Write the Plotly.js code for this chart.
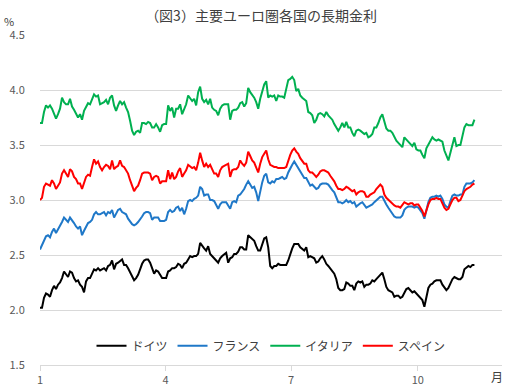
<!DOCTYPE html>
<html>
<head>
<meta charset="utf-8">
<script src="https://cdn.plot.ly/plotly-3.0.1.min.js"></script>
<style>html,body{margin:0;padding:0;background:#fff;}#chart{width:530px;height:390px;}</style>
</head>
<body>
<div id="chart"></div>
<script>
// Series names (legend order)
const seriesNames = ['ドイツ', 'フランス', 'イタリア', 'スペイン'];
const seriesColors = ['#000000', '#1f78c8', '#00b050', '#ff0000'];

// Readings are evenly spaced in time between these two dates
const startDate = '2024-01-01';
const endDate = '2024-11-11';

// Month tick labels
const tickMonths = ['2024-01-01', '2024-04-01', '2024-07-01', '2024-10-01'];
const tickLabels = ['1', '4', '7', '10'];

// Germany 10y (%)
const germany = [
2.02,2.02,2.11,2.15,2.14,2.12,2.18,2.22,2.19,2.23,
2.25,2.29,2.35,2.32,2.30,2.35,2.34,2.29,2.26,2.27,
2.23,2.21,2.16,2.26,2.29,2.29,2.33,2.37,2.36,2.38,
2.36,2.37,2.38,2.36,2.40,2.41,2.45,2.37,2.42,2.43,
2.45,2.46,2.41,2.41,2.38,2.34,2.30,2.27,2.29,2.32,
2.37,2.42,2.45,2.46,2.46,2.43,2.38,2.33,2.36,2.35,
2.32,2.29,2.29,2.29,2.35,2.36,2.38,2.38,2.39,2.42,
2.41,2.38,2.42,2.43,2.46,2.49,2.48,2.49,2.49,2.51,
2.61,2.59,2.56,2.54,2.58,2.51,2.49,2.48,2.45,2.43,
2.47,2.49,2.51,2.52,2.43,2.47,2.48,2.51,2.51,2.53,
2.57,2.57,2.55,2.55,2.68,2.66,2.64,
2.63,2.58,2.54,2.54,2.60,2.65,2.66,2.57,2.40,2.38,
2.40,2.40,2.42,2.41,2.41,2.41,2.41,2.45,2.51,2.56,
2.60,2.60,2.60,2.57,2.55,2.54,2.57,2.48,2.49,2.48,
2.47,2.43,2.44,2.47,2.49,2.46,2.42,2.40,2.38,2.36,
2.33,2.28,2.20,2.18,2.18,2.19,2.25,2.24,2.22,2.22,
2.18,2.24,2.26,2.25,2.26,2.21,2.23,2.23,2.24,2.27,
2.26,2.28,2.30,2.32,2.34,2.28,2.21,2.18,2.17,2.16,
2.12,2.13,2.13,2.11,2.12,2.15,2.19,2.20,2.18,2.16,
2.17,2.15,2.13,2.12,2.09,2.03,2.13,2.20,2.23,2.24,
2.26,2.27,2.27,2.27,2.23,2.20,2.18,2.20,2.24,2.28,
2.30,2.29,2.28,2.28,2.30,2.37,2.39,2.40,2.39,2.41,
2.41
];

// France 10y (%)
const france = [
2.55,2.59,2.62,2.67,2.68,2.66,2.71,2.74,2.70,2.73,
2.76,2.80,2.84,2.82,2.80,2.84,2.82,2.79,2.76,2.74,
2.76,2.68,2.72,2.76,2.79,2.80,2.82,2.87,2.89,2.87,
2.87,2.88,2.89,2.86,2.89,2.88,2.91,2.84,2.87,2.91,
2.92,2.89,2.88,2.87,2.83,2.80,2.78,2.77,2.78,2.80,
2.82,2.85,2.88,2.89,2.89,2.88,2.82,2.84,2.84,2.84,
2.81,2.81,2.81,2.82,2.89,2.91,2.89,2.90,2.93,2.94,
2.90,2.93,2.87,2.92,2.99,3.00,2.99,3.01,3.02,3.04,
3.12,3.10,3.04,3.05,3.05,3.00,3.00,2.99,2.95,2.92,
2.96,2.98,2.98,2.98,2.95,2.92,2.98,2.99,2.98,3.04,
3.05,3.07,3.10,3.14,3.17,3.14,3.11,
3.12,3.07,2.99,3.08,3.16,3.22,3.24,3.16,3.15,3.17,
3.16,3.19,3.19,3.20,3.21,3.19,3.20,3.25,3.29,3.32,
3.35,3.32,3.28,3.25,3.23,3.20,3.20,3.16,3.13,3.14,
3.12,3.10,3.11,3.14,3.15,3.15,3.15,3.14,3.11,3.09,
3.07,3.02,2.98,2.98,2.97,2.98,3.00,2.98,2.99,2.97,
2.98,2.94,2.96,2.97,2.98,2.96,2.93,2.94,2.95,2.96,
2.98,3.00,3.02,3.03,3.03,2.99,2.96,2.93,2.90,2.87,
2.85,2.84,2.84,2.84,2.86,2.91,2.93,2.94,2.94,2.94,
2.93,2.94,2.93,2.90,2.88,2.83,2.90,2.98,3.02,3.03,
3.03,3.04,3.03,3.04,3.01,2.96,2.94,2.93,2.99,3.04,
3.05,3.04,3.04,3.05,3.05,3.12,3.15,3.15,3.15,3.16,
3.18
];

// Italy 10y (%)
const italy = [
3.70,3.70,3.80,3.86,3.84,3.86,3.83,3.79,3.74,3.78,
3.83,3.93,3.89,3.87,3.87,3.92,3.85,3.82,3.78,3.75,
3.78,3.73,3.81,3.84,3.88,3.87,3.91,3.96,3.94,3.95,
3.87,3.88,3.89,3.91,3.87,3.93,3.95,3.86,3.81,3.86,
3.90,3.87,3.89,3.84,3.80,3.72,3.63,3.59,3.62,3.63,
3.61,3.70,3.70,3.69,3.71,3.70,3.66,3.66,3.69,3.66,
3.62,3.68,3.69,3.69,3.86,3.81,3.84,3.75,3.83,3.83,
3.87,3.78,3.83,3.87,3.95,3.93,3.90,3.92,3.86,
3.98,4.03,3.92,3.89,3.91,3.87,3.92,3.84,3.82,3.81,
3.77,3.83,3.86,3.87,3.87,3.87,3.73,3.81,3.82,3.82,
3.84,3.88,3.89,3.85,3.88,4.02,3.98,3.96,
3.93,3.89,3.83,3.92,3.99,4.05,4.08,3.93,3.95,3.94,
3.95,3.90,3.95,3.94,3.94,3.93,4.01,4.09,4.10,4.12,
4.09,3.99,4.01,3.95,3.93,3.91,3.90,3.80,3.79,3.77,
3.70,3.73,3.78,3.79,3.78,3.76,3.80,3.77,3.75,3.73,
3.69,3.66,3.63,3.66,3.70,3.66,3.71,3.66,3.66,3.61,
3.58,3.63,3.64,3.63,3.61,3.60,3.61,3.57,3.58,3.60,
3.66,3.66,3.70,3.75,3.78,3.72,3.65,3.63,3.63,3.61,
3.57,3.54,3.52,3.50,3.48,3.57,3.55,3.54,3.52,3.49,
3.52,3.46,3.45,3.45,3.41,3.38,3.47,3.50,3.54,3.57,
3.55,3.54,3.55,3.54,3.53,3.45,3.40,3.36,3.43,3.49,
3.57,3.49,3.50,3.50,3.58,3.66,3.69,3.68,3.68,3.68,
3.73
];

// Spain 10y (%)
const spain = [
3.00,3.02,3.12,3.15,3.14,3.13,3.18,3.15,3.10,3.13,
3.16,3.24,3.27,3.24,3.21,3.28,3.26,3.21,3.19,3.15,
3.15,3.10,3.16,3.21,3.23,3.22,3.30,3.37,3.33,3.35,
3.30,3.27,3.30,3.32,3.31,3.28,3.36,3.28,3.30,3.31,
3.36,3.31,3.30,3.27,3.24,3.18,3.12,3.08,3.11,3.13,
3.18,3.24,3.25,3.25,3.25,3.24,3.18,3.21,3.22,3.21,
3.15,3.17,3.17,3.17,3.27,3.19,3.25,3.19,3.21,3.26,
3.29,3.21,3.24,3.27,3.32,3.30,3.29,3.30,3.27,3.34,
3.43,3.36,3.30,3.33,3.30,3.32,3.27,3.24,3.24,3.21,
3.27,3.30,3.31,3.32,3.33,3.21,3.27,3.28,3.28,3.30,
3.36,3.33,3.31,3.34,3.44,3.40,3.36,
3.34,3.30,3.25,3.33,3.39,3.42,3.45,3.37,3.32,3.31,
3.30,3.30,3.29,3.29,3.29,3.29,3.30,3.36,3.41,3.45,
3.47,3.44,3.42,3.38,3.36,3.33,3.33,3.27,3.25,3.25,
3.23,3.21,3.23,3.26,3.27,3.27,3.26,3.25,3.22,3.20,
3.17,3.13,3.10,3.10,3.09,3.10,3.12,3.11,3.09,3.08,
3.09,3.05,3.07,3.08,3.08,3.07,3.03,3.03,3.05,3.06,
3.07,3.10,3.12,3.14,3.12,3.05,3.02,3.00,2.98,2.96,
2.95,2.94,2.94,2.93,2.95,2.98,2.97,2.96,2.97,2.97,
2.95,2.96,2.96,2.93,2.90,2.85,2.91,2.96,3.00,3.01,
3.01,3.02,3.01,3.01,2.97,2.93,2.91,2.92,2.96,3.00,
3.02,3.02,2.99,3.00,3.04,3.08,3.10,3.11,3.12,3.14,
3.15
];

const seriesValues = [germany, france, italy, spain];

function sampleTimes(n) {
  const a = Date.parse(startDate), b = Date.parse(endDate);
  const out = [];
  for (let i = 0; i < n; i++) out.push(a + (b - a) * i / (n - 1));
  return out;
}

const font = '"Noto Sans CJK JP", "Noto Sans", sans-serif';

const traces = seriesValues.map((vals, k) => ({
  type: 'scatter',
  mode: 'lines',
  name: seriesNames[k],
  x: sampleTimes(vals.length),
  y: vals,
  line: { color: seriesColors[k], width: 2 },
  hoverinfo: 'skip'
}));

const layout = {
  width: 530,
  height: 390,
  margin: { l: 40, r: 28, t: 35, b: 25 },
  paper_bgcolor: '#ffffff',
  plot_bgcolor: '#ffffff',
  font: { family: font, color: '#595959', size: 11 },
  title: {
    text: '（図3）主要ユーロ圏各国の長期金利',
    xref: 'container', x: 0.4925, xanchor: 'center',
    yref: 'container', y: 1 - 16 / 390, yanchor: 'middle',
    font: { family: font, size: 14, color: '#404040' }
  },
  xaxis: {
    type: 'date',
    range: [Date.parse('2024-01-01'), Date.parse('2024-12-01')],
    tickmode: 'array',
    tickvals: tickMonths.map(d => Date.parse(d)),
    ticktext: tickLabels,
    showgrid: false,
    zeroline: false,
    showline: true,
    linecolor: '#d9d9d9',
    linewidth: 1,
    ticks: 'outside',
    ticklen: 5,
    tickcolor: '#d9d9d9',
    tickfont: { family: font, size: 11, color: '#595959' },
    fixedrange: true
  },
  yaxis: {
    range: [1.5, 4.5],
    tickmode: 'linear',
    tick0: 1.5,
    dtick: 0.5,
    tickformat: '.1f',
    showgrid: true,
    gridcolor: '#d9d9d9',
    gridwidth: 1,
    zeroline: false,
    showline: false,
    ticks: 'outside',
    ticklen: 12,
    tickcolor: 'rgba(0,0,0,0)',
    tickfont: { family: font, size: 11, color: '#595959' },
    fixedrange: true
  },
  showlegend: true,
  legend: {
    orientation: 'h',
    x: 0.5, xanchor: 'center',
    y: 0.058, yanchor: 'middle',
    bgcolor: 'rgba(0,0,0,0)',
    font: { family: font, size: 12, color: '#404040' },
    traceorder: 'normal'
  },
  annotations: [
    { text: '月', xref: 'paper', yref: 'paper', x: 0.989, y: -0.036, xanchor: 'center', yanchor: 'middle', showarrow: false, font: { family: font, size: 12, color: '#404040' } },
    { text: '%', xref: 'paper', yref: 'paper', x: -0.067, y: 1.042, xanchor: 'center', yanchor: 'middle', showarrow: false, font: { family: font, size: 11, color: '#404040' } }
  ]
};

Plotly.newPlot('chart', traces, layout, { displayModeBar: false, staticPlot: true });
</script>
</body>
</html>
